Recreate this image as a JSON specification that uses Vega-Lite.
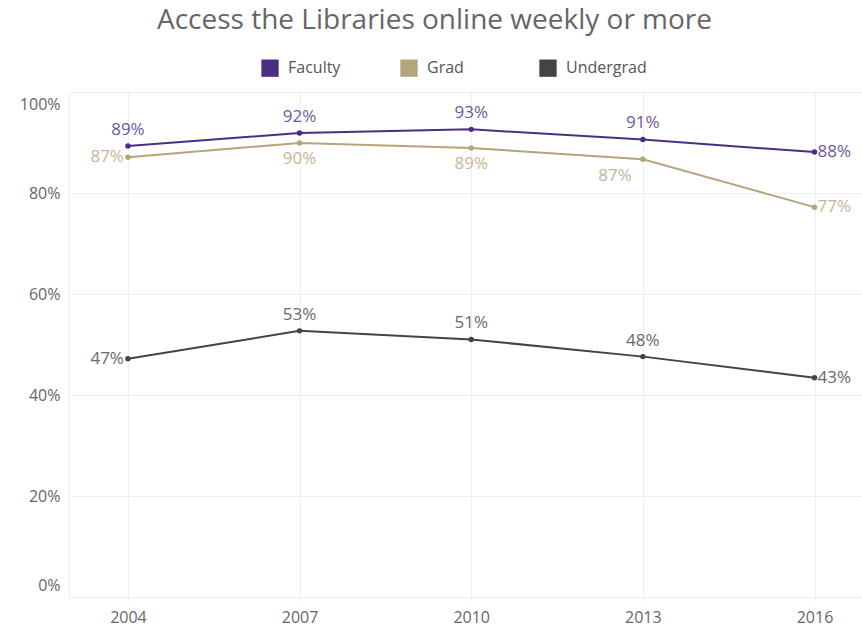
{
  "$schema": "https://vega.github.io/schema/vega-lite/v6.json",
  "width": 793,
  "height": 505,
  "autosize": {"type": "none"},
  "padding": {"left": 69, "top": 92, "right": 0, "bottom": 35},
  "background": "white",
  "title": {
    "text": "Access the Libraries online weekly or more",
    "anchor": "middle",
    "dx": -31,
    "offset": 2,
    "baseline": "alphabetic",
    "font": "Open Sans",
    "fontSize": 28,
    "fontWeight": "normal",
    "color": "#666666"
  },
  "config": {
    "view": {"stroke": null},
    "font": "Open Sans",
    "axis": {
      "labelFont": "Open Sans",
      "labelColor": "#666666",
      "gridColor": "#efefef",
      "gridWidth": 1,
      "domainColor": "#efefef",
      "tickColor": "#efefef",
      "title": null
    }
  },
  "data": {
    "values": [
      {"year": 2004, "series": "Faculty", "value": 0.893},
      {"year": 2007, "series": "Faculty", "value": 0.919},
      {"year": 2010, "series": "Faculty", "value": 0.926},
      {"year": 2013, "series": "Faculty", "value": 0.906},
      {"year": 2016, "series": "Faculty", "value": 0.881},
      {"year": 2004, "series": "Grad", "value": 0.871},
      {"year": 2007, "series": "Grad", "value": 0.899},
      {"year": 2010, "series": "Grad", "value": 0.889},
      {"year": 2013, "series": "Grad", "value": 0.867},
      {"year": 2016, "series": "Grad", "value": 0.772},
      {"year": 2004, "series": "Undergrad", "value": 0.472},
      {"year": 2007, "series": "Undergrad", "value": 0.527},
      {"year": 2010, "series": "Undergrad", "value": 0.510},
      {"year": 2013, "series": "Undergrad", "value": 0.476},
      {"year": 2016, "series": "Undergrad", "value": 0.434}
    ]
  },
  "encoding": {
    "x": {
      "field": "year",
      "type": "quantitative",
      "scale": {"domain": [2002.97, 2016.83], "nice": false, "zero": false},
      "axis": {
        "values": [2004, 2007, 2010, 2013, 2016],
        "format": "d",
        "grid": true,
        "ticks": true,
        "tickSize": 5,
        "labelPadding": 7,
        "labelFontSize": 16
      }
    },
    "y": {
      "field": "value",
      "type": "quantitative",
      "scale": {"domain": [0, 1], "nice": false},
      "axis": {
        "values": [0, 0.2, 0.4, 0.6, 0.8, 1],
        "format": ".0%",
        "grid": true,
        "ticks": false,
        "labelPadding": 9,
        "labelFontSize": 16,
        "labelFlush": true,
        "labelFlushOffset": -4
      }
    },
    "color": {
      "field": "series",
      "type": "nominal",
      "scale": {"domain": ["Faculty", "Grad", "Undergrad"], "range": ["#4b2e83", "#b7a57a", "#444444"]},
      "legend": {
        "orient": "none",
        "legendX": 192,
        "legendY": -33,
        "direction": "horizontal",
        "columns": 3,
        "gridAlign": "all",
        "columnPadding": 31,
        "title": null,
        "symbolType": "square",
        "symbolSize": 300,
        "symbolOpacity": 1,
        "labelFont": "Open Sans",
        "labelFontSize": 16,
        "labelColor": "#555555",
        "labelOffset": 9,
        "encode": {
          "symbols": {
            "update": {
              "fill": {"scale": "color", "field": "value"},
              "fillOpacity": {"value": 1},
              "strokeWidth": {"value": 0}
            }
          }
        }
      }
    }
  },
  "layer": [
    {
      "mark": {"type": "line", "strokeWidth": 2}
    },
    {
      "mark": {"type": "point", "filled": true, "size": 30, "opacity": 1}
    },
    {
      "transform": [{"filter": "(datum.series == 'Faculty' && datum.year < 2016) || (datum.series == 'Undergrad' && datum.year > 2004 && datum.year < 2016)"}],
      "mark": {"type": "text", "dy": -7, "align": "center", "baseline": "bottom", "fontSize": 17, "opacity": 0.8},
      "encoding": {
        "text": {"field": "value", "type": "quantitative", "format": ".0%"}
      }
    },
    {
      "transform": [{"filter": "datum.series == 'Grad' && (datum.year == 2007 || datum.year == 2010)"}],
      "mark": {"type": "text", "dy": 8, "align": "center", "baseline": "top", "fontSize": 17, "opacity": 0.8},
      "encoding": {
        "text": {"field": "value", "type": "quantitative", "format": ".0%"}
      }
    },
    {
      "transform": [{"filter": "datum.series == 'Grad' && datum.year == 2013"}],
      "mark": {"type": "text", "dx": -11, "dy": 9, "align": "right", "baseline": "top", "fontSize": 17, "opacity": 0.8},
      "encoding": {
        "text": {"field": "value", "type": "quantitative", "format": ".0%"}
      }
    },
    {
      "transform": [{"filter": "datum.year == 2004 && datum.series != 'Faculty'"}],
      "mark": {"type": "text", "dx": -4, "align": "right", "baseline": "middle", "fontSize": 17, "opacity": 0.8},
      "encoding": {
        "text": {"field": "value", "type": "quantitative", "format": ".0%"}
      }
    },
    {
      "transform": [{"filter": "datum.year == 2016"}],
      "mark": {"type": "text", "dx": 3, "align": "left", "baseline": "middle", "fontSize": 17, "opacity": 0.8},
      "encoding": {
        "text": {"field": "value", "type": "quantitative", "format": ".0%"}
      }
    }
  ]
}
